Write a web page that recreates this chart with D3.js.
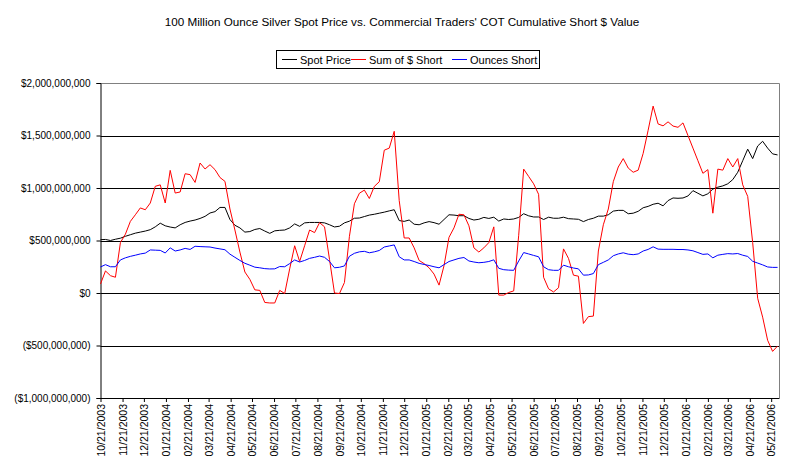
<!DOCTYPE html>
<html><head><meta charset="utf-8">
<script src="https://cdn.jsdelivr.net/npm/d3@7"></script>
<style>
body{margin:0;background:#fff;}
text{font-family:Arial,"Liberation Sans",sans-serif;}
</style></head>
<body><svg id="c" width="804" height="471"></svg>
<script>
const titleText = "100 Million Ounce Silver Spot Price vs. Commercial Traders' COT Cumulative Short $ Value";
const seriesNames = ["Spot Price", "Sum of $ Short", "Ounces Short"];
const seriesColors = ["#000000", "#ff0000", "#0000ff"];
const firstWeek = "10/21/2003";   // weekly observations start here
const axisEnd = "06/01/2006";
const tickLabels = ["10/21/2003","11/21/2003","12/21/2003","01/21/2004","02/21/2004","03/21/2004","04/21/2004","05/21/2004","06/21/2004","07/21/2004","08/21/2004","09/21/2004","10/21/2004","11/21/2004","12/21/2004","01/21/2005","02/21/2005","03/21/2005","04/21/2005","05/21/2005","06/21/2005","07/21/2005","08/21/2005","09/21/2005","10/21/2005","11/21/2005","12/21/2005","01/21/2006","02/21/2006","03/21/2006","04/21/2006","05/21/2006"];
const yTicks = [-1000000000,-500000000,0,500000000,1000000000,1500000000,2000000000];

// values in millions of dollars, one per week
const spotPrice = [
508,510,500,512,522,540,555,570,580,590,
603,630,665,640,628,620,650,672,685,695,
710,730,762,775,815,815,700,645,620,580,
585,605,614,590,568,592,597,600,620,658,
635,668,672,672,672,668,650,629,636,668,
684,712,714,728,742,750,760,770,782,793,
690,682,695,655,650,668,680,670,655,700,
745,742,736,736,710,695,702,720,710,722,
685,705,700,705,720,755,735,724,724,700,
722,712,712,722,708,705,702,680,700,712,
732,732,745,780,787,787,755,760,778,812,
825,845,855,830,880,905,902,905,924,975,
950,925,945,990,1008,1020,1040,1080,1150,1260,
1370,1280,1400,1445,1380,1325,1315];
const sumShort = [
86,210,165,150,480,560,682,745,810,793,
857,1016,1030,857,1168,952,962,1136,1127,1053,
1238,1181,1222,1175,1100,1063,800,600,390,200,
130,30,25,-90,-95,-95,25,-5,230,450,
300,450,600,575,670,630,320,0,-5,100,
540,850,950,980,900,1015,1060,1360,1380,1540,
880,524,524,430,310,280,240,180,75,260,
530,620,750,745,640,430,390,430,480,630,
-20,-20,5,20,550,1180,1110,1040,940,150,
40,10,50,420,330,170,160,-290,-225,-220,
400,650,800,1060,1200,1280,1190,1150,1170,1330,
1550,1780,1610,1592,1630,1590,1578,1620,1500,1380,
1260,1140,1175,760,1180,1170,1280,1200,1280,1030,
920,480,-50,-230,-450,-556,-505];
const ouncesShort = [
248,270,250,250,315,335,349,360,372,380,
410,408,406,381,430,400,410,425,415,445,
442,440,438,428,420,412,370,340,310,283,
265,246,240,232,229,230,252,250,280,315,
295,310,330,340,352,340,300,240,245,258,
350,378,392,397,383,392,405,438,448,458,
345,315,315,300,282,272,262,250,240,270,
300,315,330,338,305,295,288,292,300,316,
235,222,218,216,305,385,372,358,345,250,
222,216,216,265,250,238,230,170,172,185,
270,292,315,355,372,383,370,365,372,400,
415,440,418,416,416,416,414,414,410,402,
385,368,372,335,360,368,375,372,376,360,
348,302,285,268,248,244,244];

const parse = d3.timeParse("%m/%d/%Y");
const fmtDate = d3.timeFormat("%m/%d/%Y");
const start = parse(firstWeek);
const dates = spotPrice.map((_, i) => d3.timeDay.offset(start, 7 * i));
const series = [spotPrice, sumShort, ouncesShort];

const L = 100.5, R = 779, T = 83, B = 398;
const svg = d3.select("#c");
const x = d3.scaleTime().domain([start, parse(axisEnd)]).range([L, R]);
const y = d3.scaleLinear().domain([-1e9, 2e9]).range([B, T]);

// title
svg.append("text").attr("x", 402).attr("y", 26).attr("text-anchor", "middle")
  .style("font-size", "11.7px").text(titleText);

// gridlines
svg.append("g").selectAll("line").data(yTicks.filter(v => v > -1e9 && v < 2e9)).join("line")
  .attr("x1", L).attr("x2", R).attr("y1", d => Math.round(y(d)) + 0.5).attr("y2", d => Math.round(y(d)) + 0.5)
  .attr("stroke", "#000").attr("stroke-width", 1);
// plot border top/right
svg.append("path").attr("d", `M${L},${T + 0.5}H${R + 0.5}V${B}`).attr("fill", "none").attr("stroke", "#808080");

// y axis
const fmtNum = d3.format(",");
const yAxis = d3.axisLeft(y).tickValues(yTicks).tickSize(4).tickPadding(6)
  .tickFormat(v => v < 0 ? "($" + fmtNum(-v) + ")" : "$" + fmtNum(v));
const gy = svg.append("g").attr("transform", `translate(${L},0)`).call(yAxis);
gy.select(".domain").attr("stroke", "#000");
gy.selectAll("text").style("font-size", "10px").attr("fill", "#000").attr("font-family", "Arial, 'Liberation Sans', sans-serif");

// x axis
const xAxis = d3.axisBottom(x).tickValues(tickLabels.map(parse)).tickSize(4).tickPadding(3)
  .tickFormat(fmtDate);
const gx = svg.append("g").attr("transform", `translate(0,${B})`).call(xAxis);
gx.select(".domain").attr("stroke", "#000").attr("d", `M${L},0.5H${R + 0.5}`);
gx.selectAll("text").style("font-size", "10.5px").attr("fill", "#000")
  .attr("font-family", "Arial, 'Liberation Sans', sans-serif")
  .attr("transform", "rotate(-90)").attr("text-anchor", "end")
  .attr("x", -6).attr("y", 0).attr("dy", "0.35em");

// lines
const line = d3.line().x((d, i) => x(dates[i])).y(d => y(d * 1e6));
series.forEach((s, k) => {
  svg.append("path").datum(s).attr("d", line).attr("fill", "none")
    .attr("stroke", seriesColors[k]).attr("stroke-width", 1);
});

// legend
const lg = svg.append("g");
lg.append("rect").attr("x", 276.5).attr("y", 50.5).attr("width", 263).attr("height", 18)
  .attr("fill", "#fff").attr("stroke", "#000");
const legendX = [282, 351, 452];
seriesNames.forEach((n, k) => {
  const lx = legendX[k];
  lg.append("line").attr("x1", lx).attr("x2", lx + 15).attr("y1", 59.5).attr("y2", 59.5)
    .attr("stroke", seriesColors[k]).attr("stroke-width", 1);
  lg.append("text").attr("x", lx + 18).attr("y", 63.5).style("font-size", "11px").attr("fill", "#000").text(n);
});
</script></body></html>
